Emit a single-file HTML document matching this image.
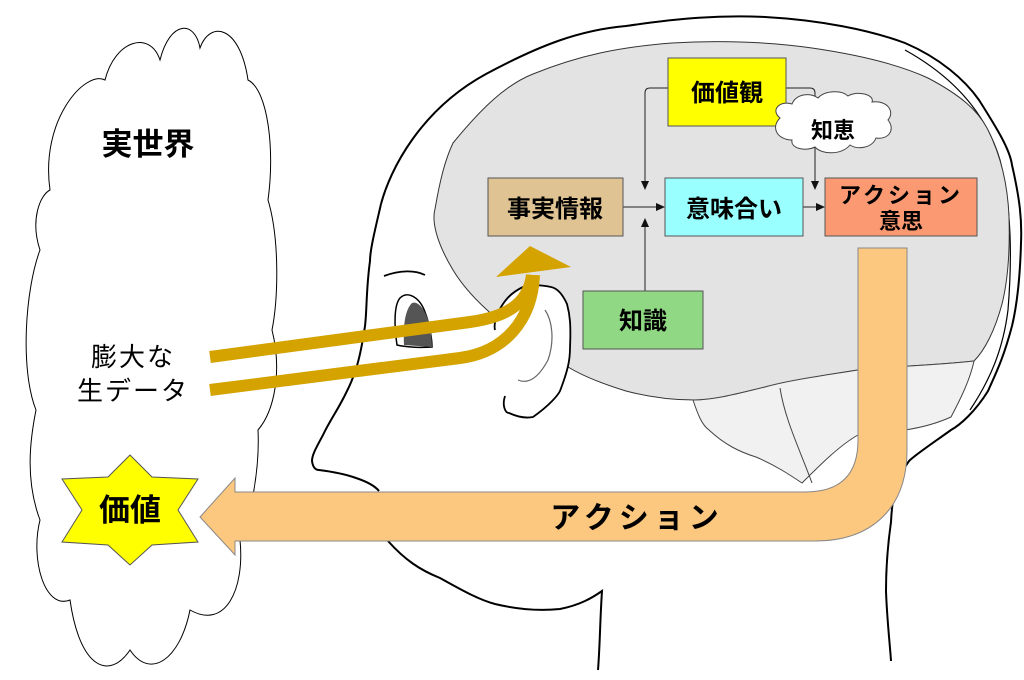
<!DOCTYPE html>
<html><head><meta charset="utf-8"><style>
html,body{margin:0;padding:0;background:#fff;}
svg{display:block;}
text{font-family:"Liberation Sans","Noto Sans CJK JP",sans-serif;font-weight:bold;fill:#000;}
</style></head><body>
<svg width="1024" height="680" viewBox="0 0 1024 680" xmlns="http://www.w3.org/2000/svg">
<path d="M50,190 C40,120 85,70 105,80 C115,40 150,30 160,60 C170,20 195,20 200,48 C210,20 240,25 248,80 C268,90 275,150 268,200 C280,240 278,300 272,330 C282,370 275,410 258,430 C260,470 250,520 240,540 C245,590 225,630 190,610 C180,660 150,680 130,650 C110,680 80,670 70,600 C45,610 30,560 40,520 C25,480 30,440 36,410 C20,370 25,290 40,250 C30,220 40,195 50,190 Z" fill="#fff" stroke="#000" stroke-width="1"/>
<text x="148" y="155" font-size="31" text-anchor="middle">実世界</text>
<text x="133" y="366" font-size="26" text-anchor="middle" style="font-weight:normal" letter-spacing="2">膨大な</text>
<text x="133" y="400" font-size="26" text-anchor="middle" style="font-weight:normal" letter-spacing="2">生データ</text>
<path d="M381,204 C390,170 420,110 486,74 C540,45 580,30 626,26 C680,18 720,15 765,17 C820,20 870,30 905,43 C940,58 965,80 979,100 C998,130 1010,150 1012,165 C1020,200 1022,220 1021,243 C1020,280 1017,305 1012,326 C1003,360 995,375 988,391 C975,412 960,425 951,430 C930,445 915,455 909,461 C895,480 892,500 891,522 C887,550 886,570 886,591 C887,620 890,645 891,661" fill="none" stroke="#000" stroke-width="2"/>
<path d="M905,50 C950,75 985,110 1000,160 C1012,210 1012,260 1008,310 C1003,350 990,380 970,410" fill="none" stroke="#000" stroke-width="1.2"/>
<path d="M381,204 C375,230 370,250 370,261 C366,290 367,310 365,326 C360,360 355,375 347,391 C338,410 330,420 323,435 C316,448 312,455 312,461 C313,468 316,470 319,470 C335,472 345,474 356,478 C368,482 375,486 379,491" fill="none" stroke="#000" stroke-width="2"/>
<path d="M388,541 C405,560 420,570 440,578 C465,592 480,600 495,604 C520,610 540,611 560,609 C580,605 592,598 602,591 C600,620 600,645 598,670" fill="none" stroke="#000" stroke-width="2"/>
<path d="M453,270 C435,240 432,220 435,209 C440,180 445,160 453,143 C480,110 505,85 533,74 C580,55 620,47 672,43 C720,40 770,42 812,48 C860,55 900,65 928,78 C960,95 978,110 988,130 C1003,160 1008,190 1009,217 C1010,250 1008,280 1002,304 C995,330 985,350 974,361 C930,366 890,366 858,370 C825,375 795,380 765,387 C740,393 715,400 695,400 C670,400 645,396 626,391 C600,383 580,375 565,365 C540,350 515,335 495,317 C475,300 462,285 453,270 Z" fill="#e3e3e3" stroke="#333" stroke-width="1"/>
<path d="M693,400 C698,415 702,425 709,430 C725,445 740,452 756,457 C775,465 790,475 802,483 C820,465 840,445 858,435 C875,430 890,430 905,430 C925,427 940,422 951,417 C960,400 970,380 974,361 C930,366 890,366 858,370 C820,376 790,380 765,387 C740,393 715,400 693,400 Z" fill="#f1f1f1" stroke="#444" stroke-width="1"/>
<path d="M780,388 C785,420 800,450 812,483 M860,440 C862,460 862,470 860,480" fill="none" stroke="#444" stroke-width="1"/>
<path d="M505,396 C502,405 505,413 509,413 C520,418 528,418 533,417 C550,405 558,395 560,391 C568,370 570,360 570,348 C571,325 570,315 567,304 C562,293 556,288 551,287 C538,284 530,285 523,287 C510,293 503,302 498,313 C495,320 494,326 495,330" fill="#fff" stroke="#000" stroke-width="1.8"/>
<path d="M518,380 C530,385 540,375 548,360 C555,340 552,320 545,310" fill="none" stroke="#666" stroke-width="1.2"/>
<path d="M384,276 C400,270 415,270 425,275" fill="none" stroke="#000" stroke-width="1.8"/>
<path d="M397,345 C394,325 394,305 400,298 C408,290 420,298 425,312 C430,325 432,340 432,347 C420,348 405,347 397,345 Z" fill="#fff" stroke="#000" stroke-width="1.5"/>
<path d="M404,345 C403,325 405,310 412,303 C420,300 428,315 431,330 L432,347 Z" fill="#555"/>
<g fill="none" stroke="#d4a300" stroke-width="12">
<path d="M210,357 L470,322 C505,317 528,305 532,275"/>
<path d="M210,390 L460,358 C505,352 532,320 534,275"/>
</g>
<polygon points="496,277 571,267 530,246" fill="#d4a300"/>
<path d="M858,248 L907,248 L907,450 C907,510 870,541 815,541 L235,541 L235,555 L200,517 L235,478 L235,492 L805,492 C840,492 858,475 858,440 Z" fill="#fcc77e" stroke="#888" stroke-width="1"/>
<text x="637" y="528" font-size="30" text-anchor="middle" letter-spacing="5">アクション</text>
<polygon points="130,455 152,477 198,479 178,510 198,542 152,545 130,565 108,545 62,542 82,510 62,479 108,477" fill="#ffff00" stroke="#555" stroke-width="1"/>
<text x="130" y="521" font-size="31" text-anchor="middle">価値</text>
<g stroke="#222" stroke-width="1" fill="none">
<path d="M623,207 L660,207"/>
<path d="M645,349 L645,224"/>
<path d="M668,88 L650,88 Q645,88 645,93 L645,183"/>
<path d="M786,88 L810,88 Q815,88 815,93 L815,183"/>
<path d="M803,207 L820,207"/>
</g>
<g fill="#111">
<polygon points="665,207 656,203 656,211"/>
<polygon points="645,218 641,227 649,227"/>
<polygon points="645,190 641,181 649,181"/>
<polygon points="815,190 811,181 819,181"/>
<polygon points="825,207 816,203 816,211"/>
</g>
<rect x="488" y="178" width="135" height="58" fill="#dfc392" stroke="#555"/>
<text x="555" y="217" font-size="24" text-anchor="middle">事実情報</text>
<rect x="665" y="178" width="138" height="58" fill="#99ffff" stroke="#555"/>
<text x="734" y="217" font-size="24" text-anchor="middle">意味合い</text>
<rect x="825" y="178" width="152" height="58" fill="#fb9a72" stroke="#555"/>
<text x="901" y="203" font-size="22" text-anchor="middle" letter-spacing="3">アクション</text>
<text x="901" y="229" font-size="22" text-anchor="middle">意思</text>
<rect x="668" y="58" width="118" height="68" fill="#ffff00" stroke="#555"/>
<text x="727" y="101" font-size="24" text-anchor="middle">価値観</text>
<rect x="583" y="291" width="120" height="58" fill="#90d884" stroke="#555"/>
<text x="643" y="329" font-size="24" text-anchor="middle">知識</text>
<path d="M780,118 C770,110 780,100 792,104 C796,94 810,92 818,98 C825,90 842,90 848,96 C858,90 875,95 872,102 C888,100 895,112 888,120 C896,130 888,140 876,138 C872,148 858,150 850,145 C842,155 822,155 815,147 C805,152 790,148 792,140 C778,140 770,128 780,118 Z" fill="#fff" stroke="#444" stroke-width="1"/>
<text x="833" y="138" font-size="22" text-anchor="middle">知恵</text>
</svg>
</body></html>
